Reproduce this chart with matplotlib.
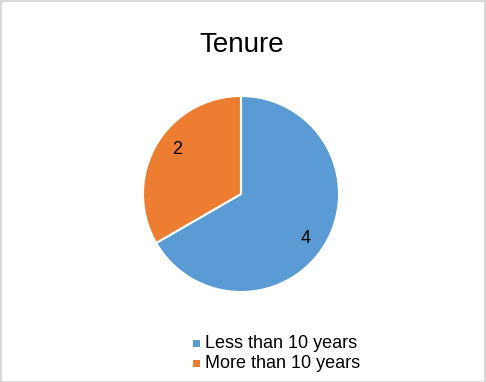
import matplotlib
matplotlib.use("Agg")
import matplotlib.pyplot as plt
from matplotlib.patches import Rectangle
import numpy as np

categories = ["Less than 10 years", "More than 10 years"]
values = [4, 2]
colors = ["#5B9BD5", "#ED7D31"]
title = "Tenure"

plt.rcParams['font.family'] = ['Liberation Sans', 'DejaVu Sans']

W, H = 486, 382
fig = plt.figure(figsize=(W/100, H/100), dpi=100)
fig.patch.set_facecolor("white")
fig.patches.append(Rectangle((0.5/W, 0.5/H), 1-1.5/W, 1-1.5/H, transform=fig.transFigure,
                             fill=False, edgecolor="#D9D9D9", linewidth=1.5))

cx, cy, r = 241, H-194, 99
ax = fig.add_axes([(cx-r)/W, (cy-r)/H, 2*r/W, 2*r/H])
wedges, texts = ax.pie(values, colors=colors, startangle=90, counterclock=False,
                       labels=[str(v) for v in values], labeldistance=0.8,
                       wedgeprops=dict(edgecolor="white", linewidth=1.5),
                       textprops=dict(fontsize=13, color="#000000", ha="center", va="center"))
for w, t in zip(wedges, texts):
    mid = np.deg2rad((w.theta1 + w.theta2) / 2 - 5)
    t.set_position((0.8 * np.cos(mid), 0.8 * np.sin(mid)))
    t.set_ha("center"); t.set_va("center")
ax.set_xlim(-1.01, 1.01)
ax.set_ylim(-1.01, 1.01)
ax.set_aspect("equal")
ax.axis("off")

fig.text(242/W, 1-45/H, title, fontsize=20, ha="center", va="center", color="#000000")

leg_y = [343, 363]
for cat, col, y in zip(categories, colors, leg_y):
    fig.patches.append(Rectangle(((196-3.5)/W, (H-y-3.5)/H), 7/W, 7/H, transform=fig.transFigure,
                                 facecolor=col, edgecolor="none"))
    fig.text(205/W, 1-y/H, cat, fontsize=13, ha="left", va="center", color="#000000")

fig.savefig("out.png", dpi=100)
